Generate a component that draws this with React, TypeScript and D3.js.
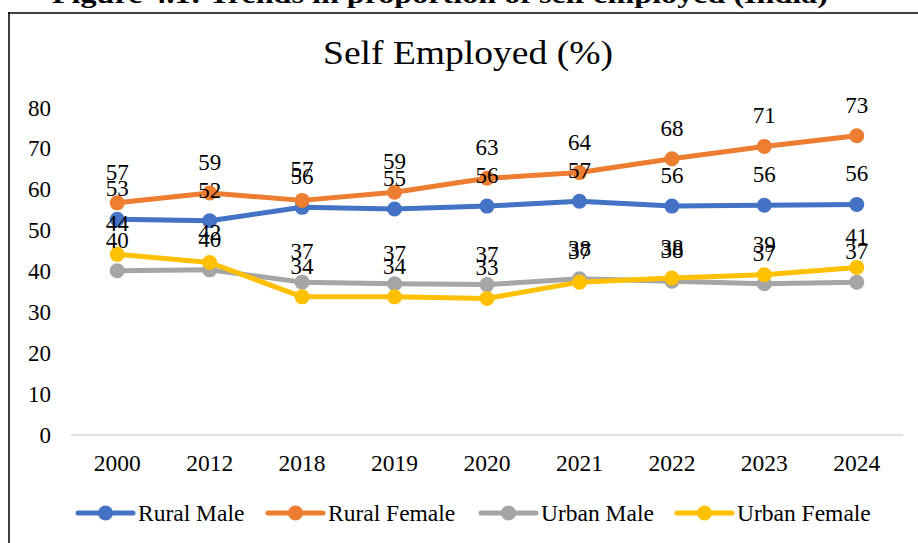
import React from "react";
import * as d3 from "d3";

const years = ["2000", "2012", "2018", "2019", "2020", "2021", "2022", "2023", "2024"];
const ruralMale = [52.8, 52.4, 55.7, 55.3, 56.0, 57.2, 56.0, 56.2, 56.4];
const ruralFemale = [56.8, 59.2, 57.4, 59.4, 62.8, 64.2, 67.6, 70.6, 73.2];
const urbanMale = [40.2, 40.4, 37.4, 37.0, 36.8, 38.2, 37.6, 37.0, 37.4];
const urbanFemale = [44.2, 42.2, 33.8, 33.8, 33.4, 37.4, 38.4, 39.2, 41.0];
const seriesNames = ["Rural Male", "Rural Female", "Urban Male", "Urban Female"];
const seriesColors = ["#4472C4", "#ED7D31", "#A5A5A5", "#FFC000"];
const yTicks = [0, 10, 20, 30, 40, 50, 60, 70, 80];

const W = 918;
const H = 543;
const FONT = "'Liberation Serif', 'Times New Roman', serif";
const tStyle = { fontFamily: FONT };

export default function App() {
  const series = [ruralMale, ruralFemale, urbanMale, urbanFemale];
  const x = d3.scaleBand<string>().domain(years).range([71, 903]);
  const cx = (y: string) => (x(y) as number) + x.bandwidth() / 2;
  const y = d3.scaleLinear().domain([0, 80]).range([435, 108]);
  const line = d3
    .line<number>()
    .x((_, i) => cx(years[i]))
    .y((d) => y(d));

  const legendX = [78, 268, 481, 677];

  return (
    <svg
      width={W}
      height={H}
      style={{ position: "absolute", left: 0, top: 0, background: "#fff", fontFamily: FONT }}
    >
      <rect x={0} y={0} width={W} height={H} fill="#fff" />
      {/* clipped figure caption */}
      <text
        x={52}
        y={3}
        fontSize={26}
        fontWeight="bold"
        textLength={776}
        lengthAdjust="spacingAndGlyphs"
        fill="#000"
        style={tStyle}
      >
        Figure 4.1: Trends in proportion of self employed (India)
      </text>
      {/* frame */}
      <line x1={8} x2={W} y1={13} y2={13} stroke="#000" strokeWidth={1.5} />
      <line x1={9} x2={9} y1={12.25} y2={H} stroke="#000" strokeWidth={1.5} />

      {/* title */}
      <text
        x={323}
        y={63.5}
        fontSize={33}
        textLength={290}
        lengthAdjust="spacingAndGlyphs"
        fill="#000"
        style={tStyle}
      >
        Self Employed (%)
      </text>

      {/* y axis labels */}
      {yTicks.map((t) => (
        <text key={t} x={51} y={y(t) + 7.5} textAnchor="end" fontSize={23} fill="#000" style={tStyle}>
          {t}
        </text>
      ))}

      {/* baseline */}
      <line x1={71} x2={903} y1={y(0)} y2={y(0)} stroke="#D9D9D9" strokeWidth={1.5} />

      {/* x labels */}
      {years.map((yr) => (
        <text key={yr} x={cx(yr)} y={471} textAnchor="middle" fontSize={23.5} fill="#000" style={tStyle}>
          {yr}
        </text>
      ))}

      {/* lines */}
      {series.map((s, si) => (
        <g key={si}>
          <path
            d={line(s) as string}
            fill="none"
            stroke={seriesColors[si]}
            strokeWidth={5}
            strokeLinejoin="round"
            strokeLinecap="round"
          />
          {s.map((v, i) => (
            <circle key={i} cx={cx(years[i])} cy={y(v)} r={7.5} fill={seriesColors[si]} />
          ))}
        </g>
      ))}

      {/* data labels */}
      {series.map((s, si) => (
        <g key={"l" + si}>
          {s.map((v, i) => (
            <text
              key={i}
              x={cx(years[i])}
              y={y(v) - 23}
              textAnchor="middle"
              fontSize={23}
              fill="#000"
              style={tStyle}
            >
              {Math.round(v)}
            </text>
          ))}
        </g>
      ))}

      {/* legend */}
      {seriesNames.map((n, i) => (
        <g key={n}>
          <line
            x1={legendX[i]}
            x2={legendX[i] + 55}
            y1={513}
            y2={513}
            stroke={seriesColors[i]}
            strokeWidth={5}
            strokeLinecap="round"
          />
          <circle cx={legendX[i] + 27.5} cy={513} r={7.5} fill={seriesColors[i]} />
          <text x={legendX[i] + 60} y={521} fontSize={23.5} fill="#000" style={tStyle}>
            {n}
          </text>
        </g>
      ))}
    </svg>
  );
}
